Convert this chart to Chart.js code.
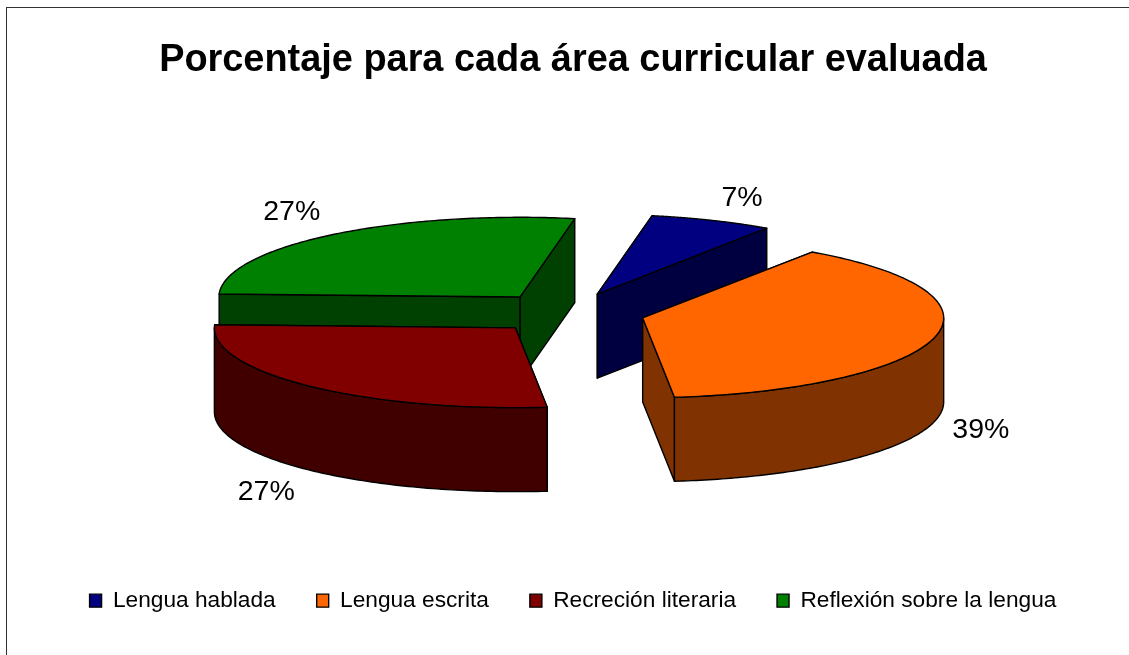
<!DOCTYPE html>
<html>
<head>
<meta charset="utf-8">
<style>html,body{margin:0;padding:0;background:#fff;overflow:hidden}canvas{display:block}</style>
<script src="https://cdn.jsdelivr.net/npm/chart.js@4/dist/chart.umd.js"></script>
</head>
<body>
<canvas id="c" width="1129" height="655"></canvas>
<script>
const categories = ["Lengua hablada", "Lengua escrita", "Recreción literaria", "Reflexión sobre la lengua"];
const values = [6.6, 38.8, 27.3, 27.3];
const topColors = ["#000080", "#FF6600", "#800000", "#008000"];
const wallColors = ["#000040", "#803300", "#400000", "#004000"];
const titleText = "Porcentaje para cada área curricular evaluada";

const SQUASH = 0.265, DEPTH = 84, RADIUS = 301, EXPLODE = 77, LABEL_R = 436;
const LABEL_EXTRA_Y = 11;          // labels sit a little further out vertically
const LABEL_DX = [8, -10, -4, -4]; // hand nudges per label, in pixels
const LABEL_DY = [2, 2, 3, -2];
const SHIFT_X = -5;   // pie centre relative to the chart area centre
const PIE_Y = 313;    // vertical centre of the squashed pie

function geom(arc) {
  const mid = (arc.startAngle + arc.endAngle) / 2;
  const r = arc.outerRadius;
  const ax = arc.x + SHIFT_X + Math.cos(mid) * EXPLODE;
  const ay = PIE_Y + SQUASH * Math.sin(mid) * EXPLODE;
  const pt = (t, d) => [ax + r * Math.cos(t), ay + SQUASH * r * Math.sin(t) + (d || 0)];
  return {mid, ax, ay, r, pt};
}
function topPath(ctx, arc) {
  const g = geom(arc);
  ctx.beginPath();
  ctx.moveTo(g.ax, g.ay);
  for (let i = 0; i <= 120; i++) {
    const t = arc.startAngle + (arc.endAngle - arc.startAngle) * i / 120;
    const p = g.pt(t); ctx.lineTo(p[0], p[1]);
  }
  ctx.closePath();
}
function face(ctx, g, t, color) {
  const p = g.pt(t), q = g.pt(t, DEPTH);
  ctx.beginPath();
  ctx.moveTo(g.ax, g.ay); ctx.lineTo(p[0], p[1]); ctx.lineTo(q[0], q[1]); ctx.lineTo(g.ax, g.ay + DEPTH);
  ctx.closePath();
  ctx.fillStyle = color; ctx.fill(); ctx.stroke();
}
function rim(ctx, arc, g, color) {
  const TAU = Math.PI * 2;
  let a = arc.startAngle, b = arc.endAngle;
  const k = Math.floor(a / TAU); a -= k * TAU; b -= k * TAU;
  // front half of the ellipse, in either of the two turns the slice can span
  [0, TAU].forEach(w => {
    const lo = Math.max(a, w), hi = Math.min(b, w + Math.PI);
    if (hi <= lo) return;
    ctx.beginPath();
    const n = 100;
    for (let i = 0; i <= n; i++) {
      const p = g.pt(lo + (hi - lo) * i / n);
      i ? ctx.lineTo(p[0], p[1]) : ctx.moveTo(p[0], p[1]);
    }
    for (let i = n; i >= 0; i--) {
      const p = g.pt(lo + (hi - lo) * i / n, DEPTH);
      ctx.lineTo(p[0], p[1]);
    }
    ctx.closePath();
    ctx.fillStyle = color; ctx.fill(); ctx.stroke();
  });
}

const pie3d = {
  id: "pie3d",
  beforeDraw(chart) {
    const c = chart.ctx;
    c.save();
    c.strokeStyle = "#333"; c.lineWidth = 1;
    c.strokeRect(6.5, 7.5, chart.width + 20, chart.height + 20);
    c.restore();
  },
  beforeDatasetsDraw(chart) {
    const c = chart.ctx, arcs = chart.getDatasetMeta(0).data;
    c.save();
    c.strokeStyle = "#000"; c.lineWidth = 1.4; c.lineJoin = "round";
    [3, 0, 1, 2].forEach(i => {
      const arc = arcs[i], g = geom(arc);
      const ends = [arc.startAngle, arc.endAngle].sort((u, v) => g.pt(u)[1] - g.pt(v)[1]);
      ends.forEach(t => face(c, g, t, wallColors[i]));
      rim(c, arc, g, wallColors[i]);
    });
    c.restore();
    // each slice is drawn by the library's arc element, moved out and squashed
    arcs.forEach(arc => {
      const g = geom(arc);
      c.save();
      c.translate(g.ax, g.ay);
      c.scale(1, SQUASH);
      c.translate(-arc.x, -arc.y);
      arc.draw(c);
      c.restore();
    });
    c.save();
    c.strokeStyle = "#000"; c.lineWidth = 1.4; c.lineJoin = "round";
    arcs.forEach(arc => { topPath(c, arc); c.stroke(); });
    c.fillStyle = "#000";
    c.font = "28.5px 'Liberation Sans', Arial, sans-serif";
    c.textAlign = "center"; c.textBaseline = "middle";
    const total = values.reduce((a, b) => a + b, 0);
    arcs.forEach((arc, i) => {
      const g = geom(arc);
      const s = Math.sin(g.mid);
      const x = arc.x + SHIFT_X + LABEL_R * Math.cos(g.mid) + LABEL_DX[i];
      const y = PIE_Y + (SQUASH * LABEL_R + LABEL_EXTRA_Y) * s + (s > 0 ? DEPTH : 0) + LABEL_DY[i];
      c.fillText(Math.round(values[i] / total * 100) + "%", x, y);
    });
    c.restore();
    return false;
  }
};

new Chart(document.getElementById("c"), {
  type: "pie",
  data: {
    labels: categories,
    datasets: [{
      data: values,
      backgroundColor: topColors,
      borderWidth: 0
    }]
  },
  plugins: [pie3d],
  options: {
    responsive: false,
    animation: false,
    rotation: 10.5,
    radius: RADIUS,
    layout: {padding: {left: 17, right: 0, top: 38, bottom: 33}},
    plugins: {
      tooltip: {enabled: false},
      title: {
        display: true,
        text: titleText,
        color: "#000",
        font: {family: "'Liberation Sans', Arial, sans-serif", size: 37.9, weight: "bold"},
        padding: {top: 0, bottom: 0}
      },
      legend: {
        display: true,
        position: "bottom",
        labels: {
          color: "#000",
          font: {family: "'Liberation Sans', Arial, sans-serif", size: 22.7},
          boxWidth: 12, boxHeight: 13, padding: 41,
          generateLabels(chart) {
            return categories.map((t, i) => ({
              text: t, fillStyle: topColors[i], strokeStyle: "#000", lineWidth: 1.4, index: i
            }));
          }
        }
      }
    }
  }
});
</script>
</body>
</html>
